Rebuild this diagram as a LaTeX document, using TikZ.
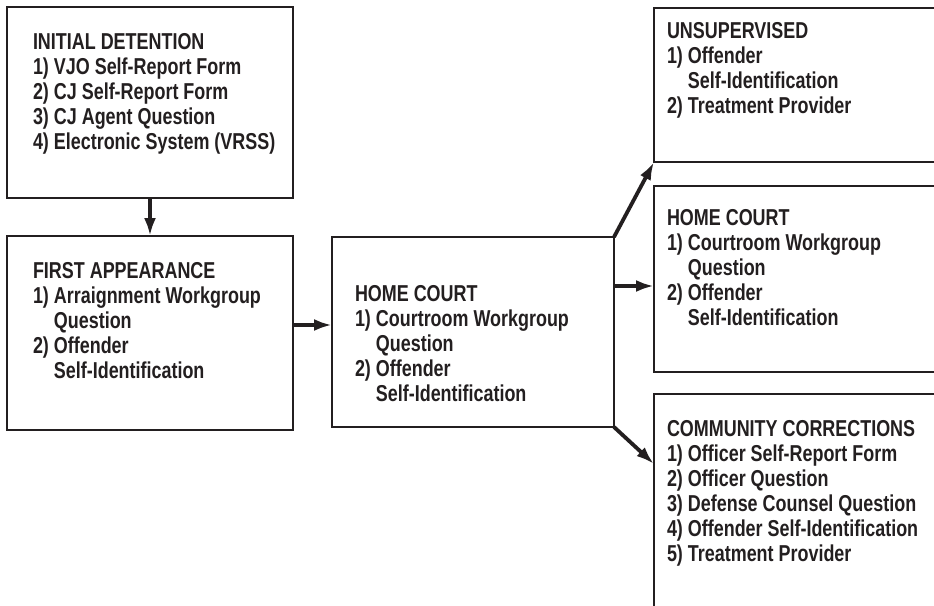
\documentclass[tikz,border=0pt]{standalone}
\usepackage{fontspec}
\newfontfamily\boxfont{Liberation Sans}[FakeStretch=0.78]
\usetikzlibrary{arrows.meta}
\definecolor{ink}{HTML}{231F20}
\newcommand{\ind}{\phantom{1) }}
\begin{document}
\begin{tikzpicture}[x=1pt,y=-1pt,
  box/.style={draw=ink, line width=2pt, inner sep=0pt, outer sep=0pt, anchor=north west},
  txt/.style={anchor=base west, inner sep=0pt, outer sep=0pt, text=ink,
    font=\boxfont\bfseries\fontsize{23}{25}\selectfont},
  arr/.style={draw=ink, line width=3.8pt, -{Latex[length=18pt,width=12pt]}}]
\clip (0,0) rectangle (934,605);
\fill[white] (0,0) rectangle (934,605);
% boxes
\node[box, minimum width=286pt, minimum height=191pt] (det) at (7,7) {};
\node[box, minimum width=286pt, minimum height=194pt] (fa) at (7,236) {};
\node[box, minimum width=282pt, minimum height=190pt] (hcm) at (332,237) {};
\node[box, minimum width=290pt, minimum height=154pt] (uns) at (654,8) {};
\node[box, minimum width=290pt, minimum height=186pt] (hcr) at (654,186) {};
\node[box, minimum width=290pt, minimum height=230pt] (cc) at (654,394) {};
% texts
\node[txt] (detT) at (33,49) {\begin{tabular}[t]{@{}l@{}}INITIAL DETENTION\\1) VJO Self-Report Form\\2) CJ Self-Report Form\\3) CJ Agent Question\\4) Electronic System (VRSS)\end{tabular}};
\node[txt] (faT) at (33,278) {\begin{tabular}[t]{@{}l@{}}FIRST APPEARANCE\\1) Arraignment Workgroup\\\ind Question\\2) Offender\\\ind Self-Identification\end{tabular}};
\node[txt] (hcmT) at (355,301) {\begin{tabular}[t]{@{}l@{}}HOME COURT\\1) Courtroom Workgroup\\\ind Question\\2) Offender\\\ind Self-Identification\end{tabular}};
\node[txt] (unsT) at (667,38) {\begin{tabular}[t]{@{}l@{}}UNSUPERVISED\\1) Offender\\\ind Self-Identification\\2) Treatment Provider\end{tabular}};
\node[txt] (hcrT) at (667,225) {\begin{tabular}[t]{@{}l@{}}HOME COURT\\1) Courtroom Workgroup\\\ind Question\\2) Offender\\\ind Self-Identification\end{tabular}};
\node[txt] (ccT) at (667,436) {\begin{tabular}[t]{@{}l@{}}COMMUNITY CORRECTIONS\\1) Officer Self-Report Form\\2) Officer Question\\3) Defense Counsel Question\\4) Offender Self-Identification\\5) Treatment Provider\end{tabular}};
% connectors
\draw[arr] (det.south) -- (fa.north);
\draw[arr] (fa.east |- 0,325) -- (hcm.west |- 0,325);
\draw[arr] (hcm.north east) -- (uns.south west);
\draw[arr] (hcm.east |- 0,286) -- (hcr.west |- 0,286);
\draw[arr] (hcm.south east) -- (cc.west |- 0,464);
\end{tikzpicture}
\end{document}
